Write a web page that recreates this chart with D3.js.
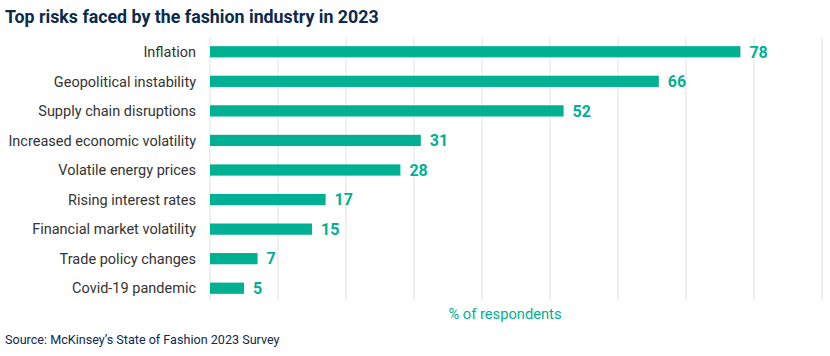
<!DOCTYPE html>
<html><head><meta charset="utf-8">
<script src="https://cdn.jsdelivr.net/npm/d3@7"></script>
<style>body{margin:0;background:#fff;}svg{display:block;font-family:Roboto,"Noto Sans",sans-serif;}</style>
</head><body>
<svg id="c" width="830" height="356"></svg>
<script>
const categories = ["Inflation","Geopolitical instability","Supply chain disruptions","Increased economic volatility","Volatile energy prices","Rising interest rates","Financial market volatility","Trade policy changes","Covid-19 pandemic"];
const values = [78,66,52,31,28,17,15,7,5];
const tickValues = [0,10,20,30,40,50,60,70,80,90];
const title = "Top risks faced by the fashion industry in 2023";
const axisTitle = "% of respondents";
const source = "Source: McKinsey\u2019s State of Fashion 2023 Survey";

const svg = d3.select("#c");
const teal = "#00b092";
const x = d3.scaleLinear().domain([0,90]).range([210,822]);
const y = d3.scaleBand().domain(categories).range([37,303]).paddingInner(0.62).paddingOuter(0.31);

svg.append("text").attr("x",5).attr("y",23).attr("fill","#0b2a4d")
  .attr("font-size",17.8).attr("font-weight",700).text(title);

svg.append("g").selectAll("line").data(tickValues).join("line")
  .attr("x1",d=>x(d)).attr("x2",d=>x(d)).attr("y1",37).attr("y2",300)
  .attr("stroke","#ebebeb").attr("stroke-width",1.5);

svg.append("g").selectAll("rect").data(values).join("rect")
  .attr("x",x(0)).attr("y",(d,i)=>y(categories[i]))
  .attr("width",d=>x(d)-x(0)).attr("height",y.bandwidth()).attr("fill",teal);

svg.append("g").selectAll("text").data(values).join("text")
  .attr("x",d=>x(d)+9).attr("y",(d,i)=>y(categories[i])+y.bandwidth()/2)
  .attr("dy","0.36em").attr("fill",teal).attr("font-size",16).attr("font-weight",700)
  .text(d=>d);

svg.append("g").selectAll("text").data(categories).join("text")
  .attr("x",196).attr("y",d=>y(d)+y.bandwidth()/2).attr("dy","0.36em")
  .attr("text-anchor","end").attr("fill","#333").attr("font-size",14.5).text(d=>d);

svg.append("text").attr("x",505).attr("y",319).attr("text-anchor","middle")
  .attr("fill",teal).attr("font-size",14.7).text(axisTitle);

svg.append("text").attr("x",5).attr("y",344).attr("fill","#0b2a4d")
  .attr("font-size",12.6).text(source);
</script>
</body></html>
